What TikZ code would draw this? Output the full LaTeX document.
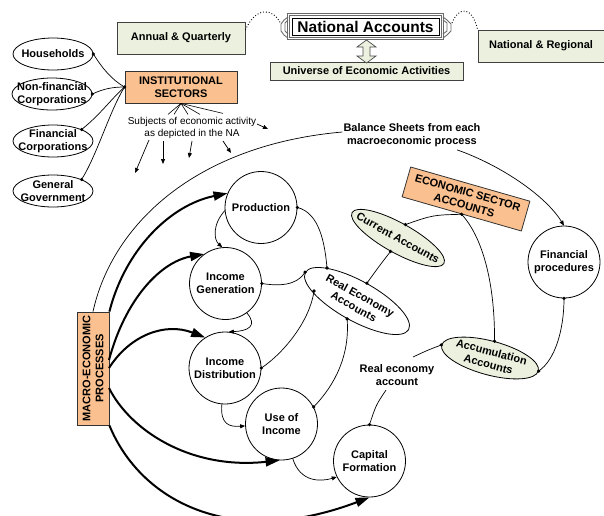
\documentclass[tikz,border=0pt]{standalone}
\usepackage{fontspec}
\setmainfont{Liberation Sans}
\usetikzlibrary{arrows.meta,shapes.geometric,calc,shadows}
\definecolor{peach}{RGB}{250,192,143}
\definecolor{lgreen}{RGB}{235,241,222}
\definecolor{framegray}{RGB}{105,105,105}
\begin{document}
\begin{tikzpicture}[x=1pt,y=-1pt,
  bft/.style={font=\fontsize{11}{13}\selectfont\bfseries, align=center, inner sep=1pt},
  rgt/.style={font=\fontsize{10}{12.3}\selectfont, align=center, inner sep=1pt},
  greenbox/.style={draw=black!75, fill=lgreen, line width=0.8pt, inner sep=0,
     font=\fontsize{11}{13}\selectfont\bfseries,
     drop shadow={shadow xshift=1.3pt, shadow yshift=-1.3pt, fill=black!60, opacity=1}},
  peachbox/.style={draw=black!80, fill=peach, line width=0.8pt, inner sep=0},
  sector/.style={ellipse, draw, line width=0.8pt, minimum width=80pt, minimum height=32pt, inner sep=0},
  proc/.style={circle, draw, line width=0.8pt, minimum size=72pt, inner sep=0,
     font=\fontsize{11}{13}\selectfont\bfseries, align=center},
  acct/.style={ellipse, draw, line width=0.8pt, inner sep=0},
  conn/.style={line width=0.7pt},
  small/.style={line width=0.7pt, -{Triangle[length=5pt,width=4pt]}},
  big/.style={line width=2pt, -{Triangle[length=14pt,width=9pt]}},
]
\useasboundingbox (0,0) rectangle (604,515);

% ---------- top boxes ----------
\node[greenbox, minimum width=128pt, minimum height=32pt] (aq) at (181,38) {Annual \& Quarterly};
\node[greenbox, minimum width=126pt, minimum height=32pt] (nr) at (541,46) {National \& Regional};
\node[greenbox, minimum width=193pt, minimum height=18pt] (ue) at (366.5,71) {Universe of Economic Activities};

% National Accounts frame
\node[draw=black, line width=0.8pt, minimum width=147pt, minimum height=17pt, inner sep=0,
      font=\fontsize{15.5}{17}\selectfont\bfseries] (na) at (365.5,26.5) {National Accounts};
\draw[framegray, line width=1pt] ($(na.north west)+(-2pt,2pt)$) rectangle ($(na.south east)+(2pt,-2pt)$);
\draw[framegray, line width=1pt] ($(na.north west)+(-4pt,4pt)$) rectangle ($(na.south east)+(4pt,-4pt)$);
\draw[framegray, line width=0.9pt] (288,17) -- (284,20) -- (281,24) -- (281,31) -- (284,35) -- (288,38);
\draw[framegray, line width=0.9pt] (288,20) -- (285,23) -- (285,31) -- (288,34);
\draw[framegray, line width=0.9pt] (443,17) -- (447,20) -- (451,24) -- (451,31) -- (447,35) -- (443,38);
\draw[framegray, line width=0.9pt] (443,20) -- (447,23) -- (447,31) -- (443,34);

% dotted links
\draw[dotted, line width=0.9pt] (aq.east) ++(0,-8) .. controls (255,8) and (272,6) .. (281,24);
\draw[dotted, line width=0.9pt] (452,23) .. controls (459,6) and (472,6) .. (nr.north west);

% double arrow
\draw[fill=lgreen, draw=black!70, line width=0.7pt]
  (366.5,40) -- (376,47) -- (370,47) -- (370,56) -- (376,56) -- (366.5,63)
  -- (357,56) -- (363,56) -- (363,47) -- (357,47) -- cycle;

% ---------- institutional sectors ----------
\node[peachbox, minimum width=112pt, minimum height=32pt, bft] (inst) at (181,87) {INSTITUTIONAL\\SECTORS};

\node[sector] (hh) at (53,54) {};
\node[bft] (hht) at (hh) {Households};
\node[sector] (nf) at (52,94) {};
\node[bft] (nft) at (nf) {Non-financial\\Corporations};
\node[sector] (fc) at (53,141) {};
\node[bft] (fct) at (fc) {Financial\\Corporations};
\node[sector] (gg) at (53,191) {};
\node[bft] (ggt) at (gg) {General\\Government};

\draw[conn] (hh.east) .. controls (102,68) and (112,80) .. (inst.west);
\draw[conn] (nf.east) .. controls (103,89) and (112,87) .. (inst.west);
\draw[conn] (fc.22) .. controls (100,115) and (112,98) .. (inst.west);
\draw[conn] (gg.22) .. controls (97,155) and (110,110) .. (inst.west);

\node[rgt] (subj) at (192,128) {Subjects of economic activity\\as depicted in the NA};
\draw[line width=0.6pt] (inst.south) -- ++(-13,11);
\draw[line width=0.6pt] (inst.south) -- ++(-7,11);
\draw[line width=0.6pt] (inst.south) -- ++(7,11);
\draw[line width=0.6pt] (inst.south) -- ++(19,11);
\draw[line width=0.6pt] (inst.south) -- ++(42,10);
\draw[small] (149,140) -- (135,173);
\draw[small] (163,141) -- (163,164);
\draw[small] (192,141) -- (189,158);
\draw[small] (223,141) -- (231,153);
\draw[small] (257,124) -- (268,129);

% ---------- macro processes ----------
\node[peachbox, minimum width=32pt, minimum height=113pt] (macro) at (93,368.5) {};
\node[bft, rotate=90] (macrot) at (macro) {MACRO-ECONOMIC\\PROCESSES};

\node[proc] (prod) at (261,207.5) {Production};
\node[proc] (ig) at (225.5,283.5) {Income\\Generation};
\node[proc] (id) at (225,368) {Income\\Distribution};
\node[proc] (ui) at (281.5,424) {Use of\\Income};
\node[proc] (cf) at (369.5,461) {Capital\\Formation};
\node[proc] (fp) at (564,262) {Financial\\procedures};

% balance sheets
\node[bft] (bs) at (412,135) {Balance Sheets from each\\macroeconomic process};
\draw[conn] (macro.north) .. controls (112,225) and (195,145) .. ($(bs.west)+(0,-3)$);
\draw[small] ($(bs.south)+(45,2)$) .. controls (500,165) and (545,195) .. (fp.north);

% thick arrows
\coordinate (m2) at (109,360);
\coordinate (m3) at (109,368);
\coordinate (m4) at (109,388);
\draw[big] (macro.north east) .. controls (125,250) and (170,205) .. (prod.157);
\draw[big] (m2) .. controls (125,300) and (160,262) .. (ig.126);
\draw[big] (m3) .. controls (130,335) and (165,322) .. (id.123);
\draw[big] (m4) .. controls (130,430) and (190,470) .. (ui.-93);
\draw[big] (macro.south east) .. controls (140,500) and (230,550) .. (cf.south);

% small process arrows
\draw[small] (prod.185) .. controls (212,225) and (214,240) .. (ig.95);
\draw[small] (ig.-54) .. controls (258,326) and (248,331) .. (id.84);
\draw[small] (id.-95) .. controls (220,425) and (230,427) .. (ui.183);
\draw[small] (ui.-72) .. controls (300,482) and (320,482) .. (cf.206);

% ---------- accounts ----------
\node[acct, minimum width=118pt, minimum height=40pt, rotate=-29] (re) at (357,301) {};
\node[bft, rotate=-29] (ret) at (re) {Real Economy\\Accounts};
\node[acct, fill=lgreen, minimum width=105pt, minimum height=30pt, rotate=-29] (cur) at (398,238) {};
\node[bft, rotate=-29] (curt) at (cur) {Current Accounts};
\node[acct, fill=lgreen, minimum width=100pt, minimum height=34pt, rotate=-15] (acc) at (490,358) {};
\node[bft, rotate=-15] (acct) at (acc) {Accumulation\\Accounts};
\node[peachbox, minimum width=124pt, minimum height=31pt, rotate=-16, bft] (esa) at (466,199) {ECONOMIC SECTOR\\ACCOUNTS};
\node[bft] (rel) at (397,375) {Real economy\\account};

\coordinate (reA) at (327,268);
\coordinate (reC) at (314,291);
\coordinate (relB) at (386,390);
\coordinate (relT) at (413,357);

\draw[conn] (prod.east) .. controls (320,213) and (325,245) .. (reA);
\draw[conn] (ig.east) .. controls (290,288) and (300,280) .. (re.west);
\draw[conn] (id.east) .. controls (285,352) and (310,320) .. (reC);
\draw[conn] (ui.28) .. controls (335,385) and (350,355) .. (re.south);
\draw[conn] (cur.south) .. controls (380,265) .. (re.north);
\draw[conn] (esa.south) .. controls (433,215) .. (cur.north);
\draw[conn] (esa.south) .. controls (485,240) and (495,290) .. (acc.north);
\draw[conn] (fp.south) .. controls (564,330) and (555,360) .. (acc.east);
\draw[conn] (cf.north) .. controls (376,405) .. (relB);
\draw[conn] (relT) .. controls (428,350) .. (acc.west);

% junction dots
\foreach \p in {hh.east, nf.east, fc.22, gg.22, inst.west, prod.east, reA, ig.east, re.west,
  id.east, reC, ui.28, re.south, re.north, cur.south, cur.north, esa.south, acc.north,
  acc.east, acc.west, fp.south, cf.north}
  \fill (\p) circle (1.8pt);
\end{tikzpicture}
\end{document}
